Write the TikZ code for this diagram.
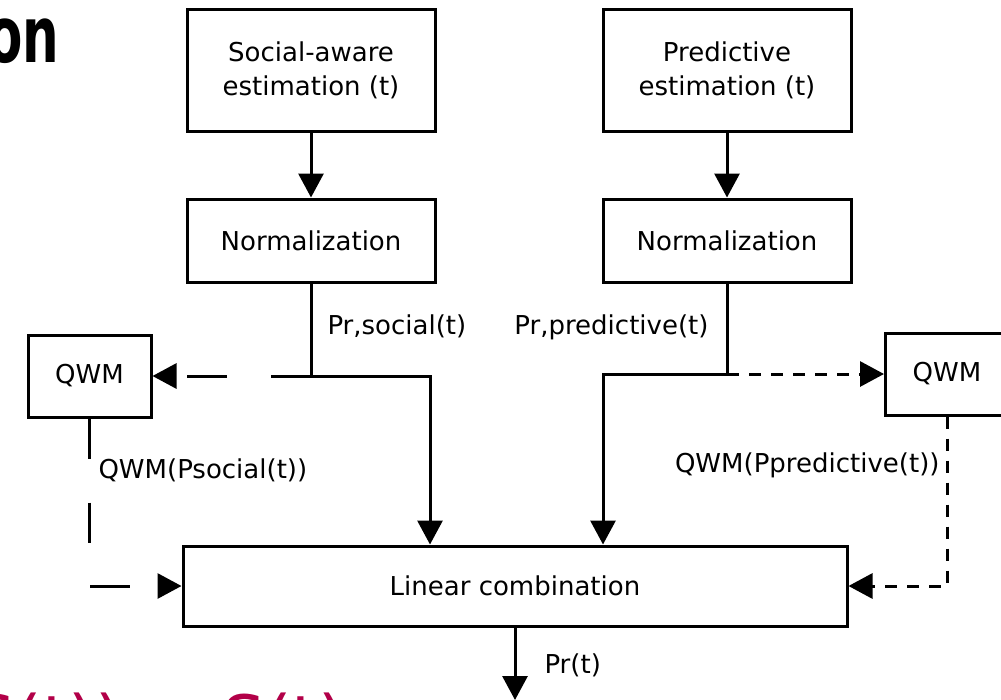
\documentclass[tikz,border=0pt]{standalone}
\usepackage{fontspec}
\setmainfont{DejaVu Sans}
\usetikzlibrary{arrows.meta}
\definecolor{formulared}{RGB}{178,0,72}

\tikzset{
  box/.style={draw, line width=3pt, align=center, inner sep=0pt},
  lbl/.style={inner sep=0pt},
  longdash/.style={dash pattern=on 40pt off 44pt},
  shortdash/.style={dash pattern=on 12pt off 10pt},
}

\begin{document}
\begin{tikzpicture}[x=1pt, y=-1pt, line width=3pt,
  >={Triangle[length=24pt,width=25pt]},
  font=\fontsize{26}{34}\selectfont]
\useasboundingbox (0,0) rectangle (1001,699);

% heading and formula, cut by the page edge
\node[lbl, anchor=base east, font=\fontsize{78}{80}\selectfont\bfseries] (head) at (61,62) {\scalebox{0.66}[1]{on}};
\node[lbl, anchor=base west, text=formulared, font=\fontsize{68}{80}\selectfont] (formula) at (-29,744) {S(t)) = S(t)};

\node[box, minimum width=248pt, minimum height=122pt] (social) at (311,70.5) {Social-aware\\estimation (t)};
\node[box, minimum width=248pt, minimum height=122pt] (predict) at (727,70.5) {Predictive\\estimation (t)};
\node[box, minimum width=248pt, minimum height=83pt] (normA) at (311,240.5) {Normalization};
\node[box, minimum width=248pt, minimum height=83pt] (normB) at (727,240.5) {Normalization};
\node[box, minimum width=123pt, minimum height=82pt] (qwmL) at (89.5,376) {QWM};
\node[box, minimum width=123pt, minimum height=82pt] (qwmR) at (947,374) {QWM};
\node[box, minimum width=664pt, minimum height=80pt] (lin) at (515,586) {Linear combination};

\coordinate (sj) at (311,376);
\coordinate (sk) at (430,376);
\coordinate (pj) at (727,374);
\coordinate (pk) at (603,374);
\coordinate (out) at (515,700);

\draw[->] (social)--(normA);
\draw[->] (predict)--(normB);
\draw[->] (normA.south)--(sj)--(sk)--(sk |- lin.north);
\draw[->] (normB.south)--(pj)--(pk)--(pk |- lin.north);
\draw[->, longdash] (sj)--(qwmL.east);
\draw[->, shortdash] (pj)--(qwmR.west |- pj);
\draw[->, longdash] (qwmL.south) |- (lin.west);
\draw[->, shortdash] (qwmR.south) |- (lin.east);
\draw[->] (lin.south)--(out);

\node[lbl, anchor=base west] (psocial) at (326,334) {Pr,social(t)};
\node[lbl, anchor=base east] (ppredict) at (710,334) {Pr,predictive(t)};
\node[lbl, anchor=base west] (qsocial) at (97,478) {QWM(Psocial(t))};
\node[lbl, anchor=base east] (qpredict) at (941,472) {QWM(Ppredictive(t))};
\node[lbl, anchor=base west] (pout) at (543,673) {Pr(t)};
\end{tikzpicture}
\end{document}
